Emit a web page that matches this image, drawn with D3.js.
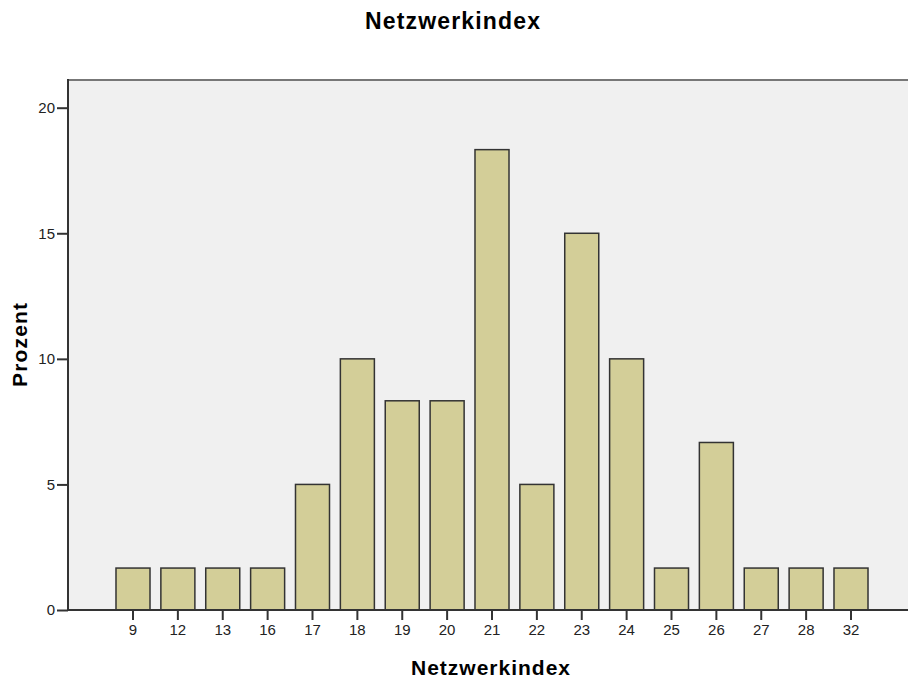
<!DOCTYPE html>
<html>
<head>
<meta charset="utf-8">
<script src="https://cdn.jsdelivr.net/npm/d3@7"></script>
<style>
  body { margin: 0; background: #fff; }
  svg text { font-family: "Liberation Sans", Arial, sans-serif; }
</style>
</head>
<body>
<div id="chart"></div>
<script>
// values (percent of 60 cases)
var categories = ["9", "12", "13", "16", "17", "18", "19", "20", "21", "22", "23", "24", "25", "26", "27", "28", "32"];
var percents = [1.67, 1.67, 1.67, 1.67, 5, 10, 8.33, 8.33, 18.33, 5, 15, 10, 1.67, 6.67, 1.67, 1.67, 1.67];
var yTicks = [0, 5, 10, 15, 20];

var width = 908, height = 682;
var plot = { left: 68, right: 908, top: 80, bottom: 610 };

var svg = d3.select("#chart").append("svg")
    .attr("width", width)
    .attr("height", height);

var x = d3.scaleBand()
    .domain(categories)
    .range([110.56, 873.44])
    .paddingInner(0.242)
    .paddingOuter(0.121);

var y = d3.scaleLinear()
    .domain([0, 20])
    .range([plot.bottom, 107.7]);

// plot background
svg.append("rect")
    .attr("x", plot.left)
    .attr("y", plot.top)
    .attr("width", plot.right - plot.left)
    .attr("height", plot.bottom - plot.top)
    .attr("fill", "#f0f0f0");

svg.append("line")
    .attr("x1", plot.left).attr("x2", plot.right)
    .attr("y1", plot.top).attr("y2", plot.top)
    .attr("stroke", "#777").attr("stroke-width", 2);

// bars
svg.selectAll(".bar")
    .data(categories)
    .enter().append("rect")
      .attr("class", "bar")
      .attr("x", function(d) { return x(d); })
      .attr("width", x.bandwidth())
      .attr("y", function(d, i) { return y(percents[i]); })
      .attr("height", function(d, i) { return y(0) - y(percents[i]); })
      .attr("fill", "#d3ce98")
      .attr("stroke", "#333")
      .attr("stroke-width", 1.5);

// axes
var xAxis = svg.append("g")
    .attr("transform", "translate(0," + plot.bottom + ")")
    .call(d3.axisBottom(x).tickSize(10).tickPadding(4));

var yAxis = svg.append("g")
    .attr("transform", "translate(" + plot.left + ",0)")
    .call(d3.axisLeft(y).tickValues(yTicks).tickSize(11).tickPadding(2));

[xAxis, yAxis].forEach(function(g) {
  g.select(".domain").remove();
  g.selectAll(".tick line").attr("stroke", "#333").attr("stroke-width", 2);
  g.selectAll(".tick text")
      .attr("fill", "#222")
      .style("font-size", "15px")
      .style("font-family", "'Liberation Sans', Arial, sans-serif");
});

// axis lines
svg.append("line")
    .attr("x1", plot.left).attr("x2", plot.right)
    .attr("y1", plot.bottom).attr("y2", plot.bottom)
    .attr("stroke", "#333").attr("stroke-width", 2);
svg.append("line")
    .attr("x1", plot.left).attr("x2", plot.left)
    .attr("y1", plot.top - 1).attr("y2", plot.bottom + 1)
    .attr("stroke", "#333").attr("stroke-width", 2);

// titles
svg.append("text")
    .attr("x", 365).attr("y", 28.5)
    .attr("textLength", 175)
    .attr("lengthAdjust", "spacing")
    .style("font-size", "23px").style("font-weight", "bold")
    .text("Netzwerkindex");

svg.append("text")
    .attr("x", 411).attr("y", 675)
    .attr("textLength", 159)
    .attr("lengthAdjust", "spacing")
    .style("font-size", "21px").style("font-weight", "bold")
    .text("Netzwerkindex");

svg.append("text")
    .attr("transform", "translate(27,387) rotate(-90)")
    .attr("textLength", 84)
    .attr("lengthAdjust", "spacing")
    .style("font-size", "21px").style("font-weight", "bold")
    .text("Prozent");
</script>
</body>
</html>
